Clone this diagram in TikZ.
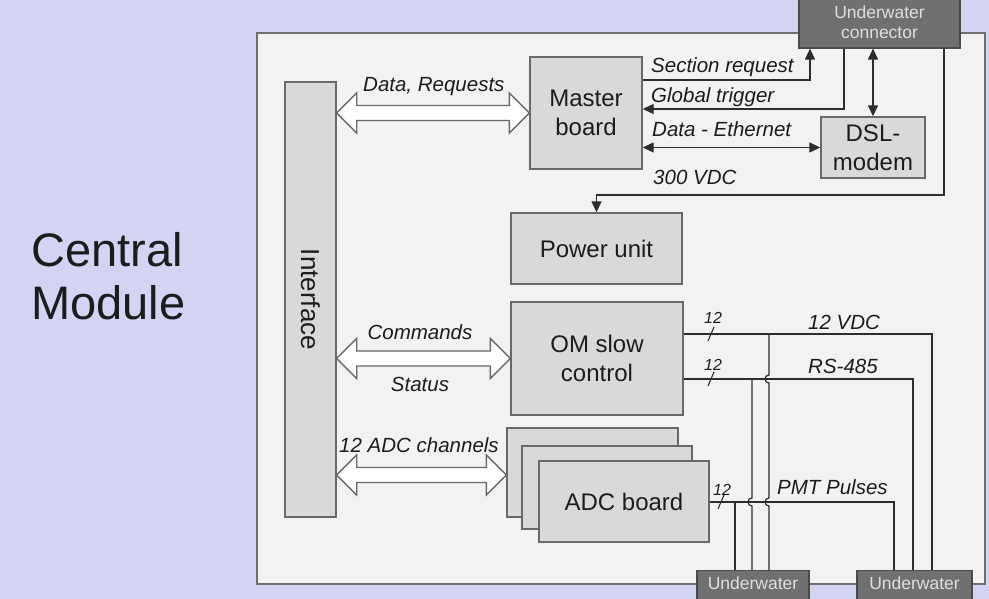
\documentclass[tikz,border=0pt]{standalone}
\usepackage{fontspec}
\setmainfont{Liberation Sans}
\usetikzlibrary{arrows.meta,calc}

\definecolor{bgcol}{RGB}{211,211,243}
\definecolor{panelfill}{RGB}{242,242,242}
\definecolor{panelline}{RGB}{110,110,110}
\definecolor{boxfill}{RGB}{217,217,217}
\definecolor{boxline}{RGB}{105,105,105}
\definecolor{uwfill}{RGB}{112,112,112}
\definecolor{uwline}{RGB}{75,75,75}
\definecolor{uwtext}{RGB}{222,222,222}
\definecolor{wirecol}{RGB}{45,45,45}
\definecolor{txt}{RGB}{28,28,28}

\newcommand\boxfont{\fontsize{24}{29}\selectfont}
\newcommand\labfont{\fontsize{20.5}{24}\selectfont\itshape}
\newcommand\uwfont{\fontsize{17.5}{20}\selectfont}
\newcommand\numfont{\fontsize{16}{18}\selectfont\itshape}
\newcommand\bigfont{\fontsize{47}{53}\selectfont}

% wide hollow double arrow between two points (taken at the height of the first)
\newcommand\fatlink[2]{%
  \draw[fatarr] let \p1=(#1), \p2=(#2) in
    (\x1,\y1) -- (\x1+20pt,\y1+20pt) -- (\x1+20pt,\y1+7.5pt) --
    (\x2-20pt,\y1+7.5pt) -- (\x2-20pt,\y1+20pt) -- (\x2,\y1) --
    (\x2-20pt,\y1-20pt) -- (\x2-20pt,\y1-7.5pt) --
    (\x1+20pt,\y1-7.5pt) -- (\x1+20pt,\y1-20pt) -- cycle;}

\begin{document}
\begin{tikzpicture}[x=1pt,y=-1pt,
  box/.style={draw=boxline, fill=boxfill, line width=1.4pt, inner sep=0pt,
    font=\boxfont, align=center, text=txt},
  uw/.style={draw=uwline, fill=uwfill, line width=1.2pt, inner sep=0pt,
    font=\uwfont, align=center, text=uwtext},
  wire/.style={draw=wirecol, line width=1.2pt},
  tip/.style={-{Triangle[length=11pt,width=10pt]}},
  tips/.style={{Triangle[length=11pt,width=10pt]}-{Triangle[length=11pt,width=10pt]}},
  fatarr/.style={draw=boxline, fill=white, line width=1.4pt, line join=miter},
  lab/.style={font=\labfont, text=txt, inner sep=0pt, anchor=base west},
  labc/.style={font=\labfont, text=txt, inner sep=0pt, anchor=base},
  num/.style={font=\numfont, text=txt, inner sep=0pt, anchor=base west},
  slash/.style={draw=wirecol, line width=1.1pt}
]
\useasboundingbox (0,0) rectangle (989,599);
\clip (0,0) rectangle (989,599);
\fill[bgcol] (0,0) rectangle (989,599);

% module title
\node[font=\bigfont, text=txt, align=left, inner sep=0pt, anchor=north west]
  (title) at (31,232) {Central\\Module};

% housing
\draw[fill=panelfill, draw=panelline, line width=1.5pt] (257,33) rectangle (985,584);

% blocks
\node[box, minimum width=51pt, minimum height=435pt] (iface) at (310.5,299.5)
  {\rotatebox{-90}{\fontsize{26}{29}\selectfont Interface}};
\node[box, minimum width=112pt, minimum height=112pt] (master) at (586,113) {Master\\board};
\node[box, minimum width=104pt, minimum height=61pt] (dsl) at (873,147.5) {DSL-\\modem};
\node[box, minimum width=171pt, minimum height=71pt] (power) at (596.5,248.5) {Power unit};
\node[box, minimum width=172pt, minimum height=113pt] (om) at (597,358.5) {OM slow\\control};
\node[box, minimum width=171pt, minimum height=89pt] (adcback) at (592.5,472.5) {};
\node[box, minimum width=170pt, minimum height=83pt] (adcmid) at (607,487.5) {};
\node[box, minimum width=170pt, minimum height=81pt] (adc) at (624,501.5) {ADC board};

% underwater connectors
\node[uw, minimum width=161pt, minimum height=51pt] (uwtop) at (879.5,22.5) {Underwater\\connector};
\node[uw, anchor=north, minimum width=112pt, text height=13pt, text depth=25pt, inner ysep=6pt]
  (uwl) at (753,570) {Underwater};
\node[uw, anchor=north, minimum width=115pt, text height=13pt, text depth=25pt, inner ysep=6pt]
  (uwr) at (914.5,570) {Underwater};

% wide buses to the interface
\coordinate (yadc) at (0,475);
\fatlink{iface.east |- master.west}{master.west}
\fatlink{iface.east |- om.west}{om.west}
\fatlink{iface.east |- yadc}{adcback.west |- yadc}
\node[lab] (lreq) at (363,92) {Data, Requests};
\node[labc] (lcmd) at (420,339) {Commands};
\node[labc] (lsta) at (420,391) {Status};
\node[labc] (ladc) at (419,452) {12 ADC channels};

% master board links
\coordinate (sec) at (810,80);
\coordinate (trg) at (844,109);
\coordinate (hv) at (944,195);
\draw[wire, tip] (master.east |- sec) -- (sec) -- (sec |- uwtop.south);
\draw[wire, tip] (trg |- uwtop.south) -- (trg) -- (master.east |- trg);
\draw[wire, tips] (master.east |- dsl.west) -- (dsl.west);
\draw[wire, tips] (dsl.north |- uwtop.south) -- (dsl.north);
\draw[wire, tip] (hv |- uwtop.south) -- (hv) -- (power.north |- hv) -- (power.north);
\node[lab] (lsec) at (651,73) {Section request};
\node[lab] (ltrg) at (651,103) {Global trigger};
\node[lab] (leth) at (652,137) {Data - Ethernet};
\node[lab] (lhv) at (653,185) {300 VDC};

% lines to the optical modules
\coordinate (vdc) at (932,334);
\coordinate (rs) at (913,379);
\coordinate (pmt) at (894,502);
\coordinate (ja) at (735,502);
\coordinate (jb) at (752,379);
\coordinate (jc) at (769,334);
\draw[wire] (om.east |- vdc) -- (vdc) -- (vdc |- uwr.north);
\draw[wire] (om.east |- rs) -- (rs) -- (rs |- uwr.north);
\draw[wire] (adc.east |- pmt) -- (pmt) -- (pmt |- uwr.north);
% branches to the left connector, bridging the crossed lines
\draw[wire] (jc) -- (769,375) arc[start angle=90, end angle=270, radius=4pt]
  -- (769,498) arc[start angle=90, end angle=270, radius=4pt] -- (jc |- uwl.north);
\draw[wire] (jb) -- (752,498) arc[start angle=90, end angle=270, radius=4pt]
  -- (jb |- uwl.north);
\draw[wire] (ja) -- (ja |- uwl.north);

% bus width marks
\draw[slash] (708,341) -- (714,327);
\draw[slash] (708,386) -- (714,372);
\draw[slash] (718,509) -- (724,495);
\node[num] (n1) at (704,323) {12};
\node[num] (n2) at (704,370) {12};
\node[num] (n3) at (713,495) {12};
\node[lab] (lvdc) at (808,329) {12 VDC};
\node[lab] (lrs) at (808,373) {RS-485};
\node[lab] (lpmt) at (777,494) {PMT Pulses};
\end{tikzpicture}
\end{document}
